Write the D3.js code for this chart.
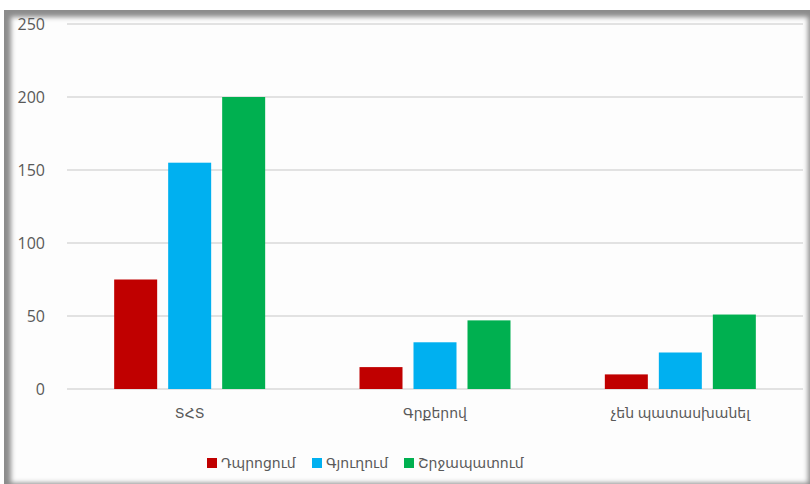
<!DOCTYPE html>
<html>
<head>
<meta charset="utf-8">
<script src="https://cdn.jsdelivr.net/npm/d3@7"></script>
<style>
  html, body { margin: 0; padding: 0; background: #fff; }
  svg { display: block; }
  text { font-family: "Open Sans", "DejaVu Sans", sans-serif; fill: #595959; }
</style>
</head>
<body>
<svg class="target"></svg>
<script>
var categories = ["ՏՀՏ", "Գրքերով", "չեն պատասխանել"];
var series = ["Դպրոցում", "Գյուղում", "Շրջապատում"];
var colors = ["#c00000", "#00b0f0", "#00b050"];
// one value per category, for each series
var school = [75, 15, 10];
var village = [155, 32, 25];
var around = [200, 47, 51];
var yTicks = [0, 50, 100, 150, 200, 250];

var values = [school, village, around];

var view_w = 810;
var view_h = 484;
const svg = d3.select(".target").attr("width", view_w).attr("height", view_h);

// frame with shadow (darker on top/left)
var defs = svg.append("defs");
defs.append("filter").attr("id", "blur")
    .attr("x", "-5%").attr("y", "-5%").attr("width", "110%").attr("height", "110%")
    .append("feGaussianBlur").attr("stdDeviation", 2.5);
svg.append("rect").attr("x", 4).attr("y", 10).attr("width", 806).attr("height", 474)
    .style("fill", "#8c8c8c");
svg.append("rect").attr("x", 11).attr("y", 17).attr("width", 797).attr("height", 466)
    .style("fill", "#fdfdfd").attr("filter", "url(#blur)");

var m_left = 67, m_right = 803, m_top = 24, m_bottom = 389;

var x = d3.scaleBand().domain(categories).range([m_left, m_right]);
var y = d3.scaleLinear().domain([0, 250]).range([m_bottom, m_top]);

// gridlines
svg.append("g").selectAll("line").data(yTicks).join("line")
    .attr("x1", m_left).attr("x2", m_right)
    .attr("y1", d => y(d)).attr("y2", d => y(d))
    .style("stroke", "#d9d9d9").style("stroke-width", 1.3);

// y labels
svg.append("g").selectAll("text").data(yTicks).join("text")
    .attr("x", 45).attr("y", d => y(d)).attr("dy", "0.35em")
    .attr("text-anchor", "end").style("font-size", "16px")
    .text(d => d);

// bars
var barW = 43, step = 54;
for (var [s, vals] of values.entries()) {
    svg.append("g").selectAll("rect").data(vals).join("rect")
        .attr("x", (d, i) => x(categories[i]) + x.bandwidth() / 2 + (s - 1) * step - barW / 2)
        .attr("y", d => y(d))
        .attr("width", barW)
        .attr("height", d => y(0) - y(d))
        .style("fill", colors[s]);
}

// category labels
svg.append("g").selectAll("text").data(categories).join("text")
    .attr("x", d => x(d) + x.bandwidth() / 2).attr("y", 418)
    .attr("text-anchor", "middle").style("font-size", "14px")
    .text(d => d);

// legend
var legendX = [207, 312, 404];
var lg = svg.append("g").selectAll("g").data(series).join("g")
    .attr("transform", (d, i) => "translate(" + legendX[i] + ",463)");
lg.append("rect").attr("x", 0).attr("y", -5).attr("width", 10).attr("height", 10)
    .style("fill", (d, i) => colors[i]);
lg.append("text").attr("x", 14).attr("y", 0).attr("dy", "0.35em")
    .style("font-size", "14px").text(d => d);
</script>
</body>
</html>
